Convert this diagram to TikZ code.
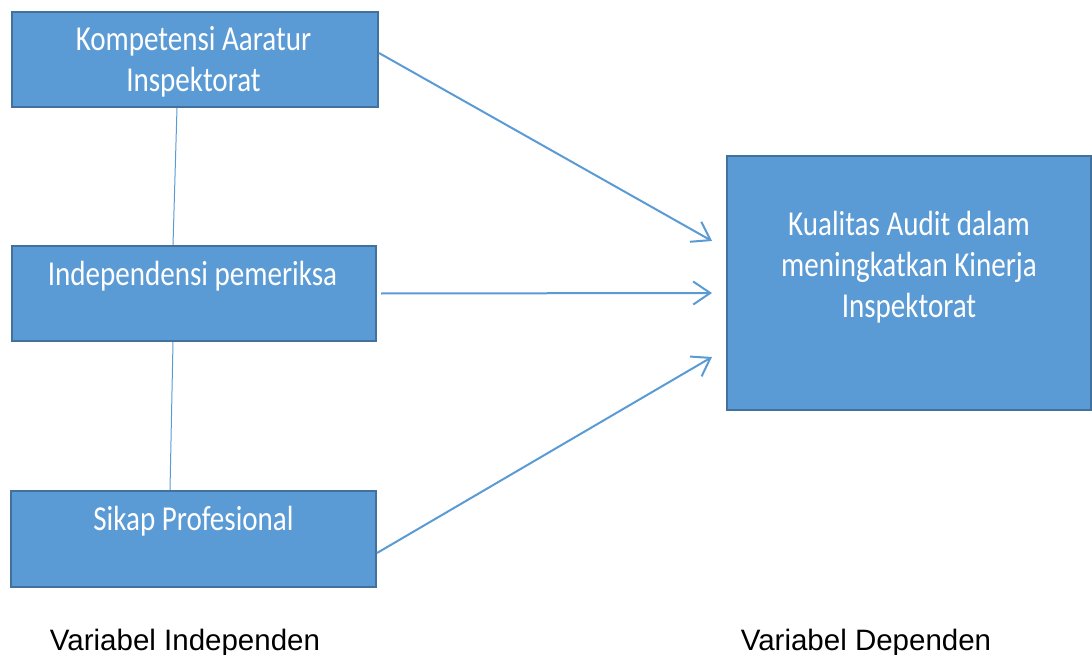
\documentclass[tikz,border=0pt]{standalone}
\usepackage{fontspec}
\setmainfont{Liberation Sans}
\newfontfamily\boxfont[FakeStretch=0.83]{Carlito}
\usetikzlibrary{arrows.meta,calc}
\definecolor{boxfill}{HTML}{5B9BD5}
\definecolor{boxline}{HTML}{41719C}
\definecolor{linkc}{HTML}{5B9BD5}
\tikzset{
  varbox/.style={draw=boxline, line width=2pt, fill=boxfill, rectangle, inner sep=0pt},
  boxtext/.style={text=white, font=\boxfont\fontsize{35}{41}\selectfont, align=center, inner sep=0pt, anchor=base},
  bottomtext/.style={font=\fontsize{29.5}{34}\selectfont, inner sep=0pt, anchor=base},
  influence/.style={draw=linkc, line width=2pt, -{Straight Barb[length=17pt,width=23pt,line width=2pt]}},
  corr/.style={draw=linkc, line width=1pt}
}
\begin{document}
\begin{tikzpicture}[x=1pt,y=-1pt]
\useasboundingbox (0,0) rectangle (1092,655);
\node[varbox, minimum width=366pt, minimum height=95pt] (b1) at (195,59.5) {};
\node[varbox, minimum width=364pt, minimum height=95pt] (b2) at (194,293.5) {};
\node[varbox, minimum width=365pt, minimum height=96pt] (b3) at (193.5,539) {};
\node[varbox, minimum width=364pt, minimum height=254pt] (b4) at (909,283) {};
\node[boxtext] (t1) at (193.5,92) {Kompetensi Aaratur\\Inspektorat};
\node[boxtext] (t2) at (192.5,285) {Independensi pemeriksa};
\node[boxtext] (t3) at (193.5,530) {Sikap Profesional};
\node[boxtext] (t4) at (909,317) {Kualitas Audit dalam\\meningkatkan Kinerja\\Inspektorat};
\node[bottomtext] (l1) at (185,650) {Variabel Independen};
\node[bottomtext] (l2) at (866,650) {Variabel Dependen};
\coordinate (e1) at (712,241);
\coordinate (e2) at (712,293);
\coordinate (e3) at (712,357);
\draw[influence] ([yshift=6.5pt]b1.east) -- (e1);
\draw[influence] ([xshift=4pt]b2.east) -- (e2);
\draw[influence] ([yshift=-14pt]b3.east) -- (e3);
\draw[corr] ([xshift=-18pt]b1.south) -- ([xshift=-21pt]b2.north);
\draw[corr] ([xshift=-21pt]b2.south) -- ([xshift=-23.5pt]b3.north);
\end{tikzpicture}
\end{document}
